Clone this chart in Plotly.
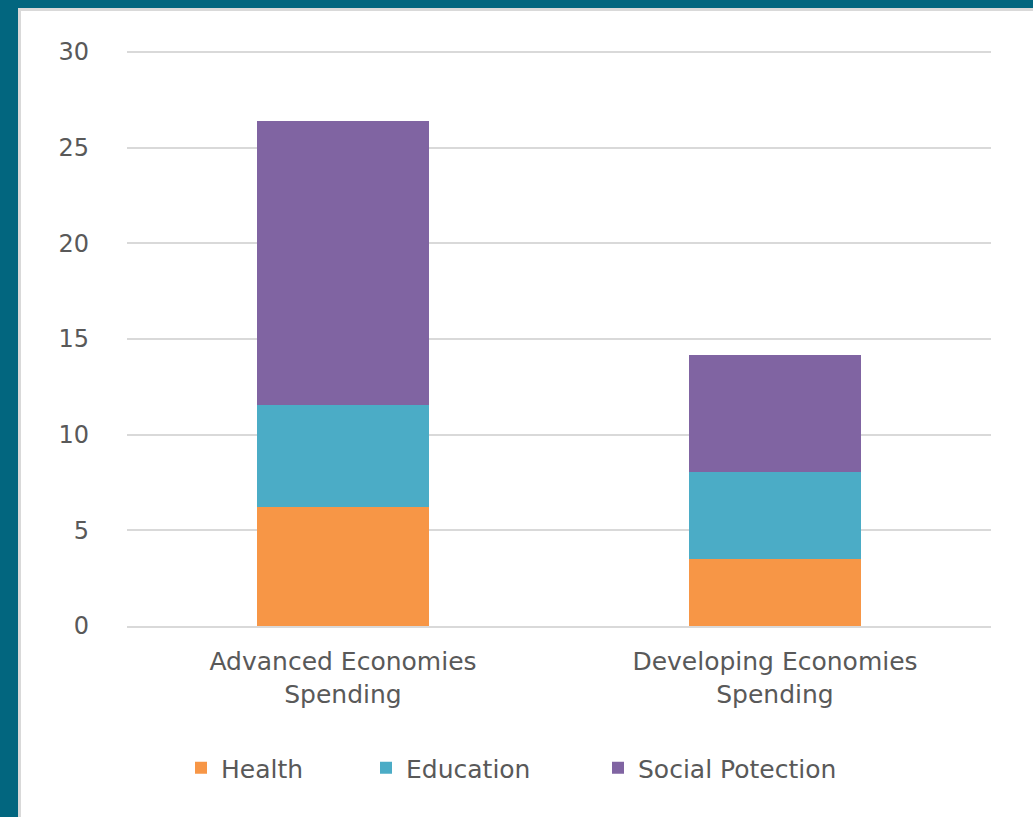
import plotly.graph_objects as go

categories = ["Advanced Economies<br>Spending", "Developing Economies<br>Spending"]
health = [6.2, 3.5]
education = [5.35, 4.55]
social = [14.85, 6.1]
series_names = ["Health", "Education", "Social Potection"]
colors = ["#F79646", "#4BACC6", "#8064A2"]
y_ticks = [0, 5, 10, 15, 20, 25, 30]

W, H = 1033, 817
L, R, T, B = 127, 42, 51, 191
pw, ph = W - L - R, H - T - B
y_top = 30 * ph / (ph - 1)

def px_x(p):
    return (p - L) / pw

def px_y(p):
    return (H - B - p) / ph

legend_left_px = [181, 366, 598]
legend_names = ["legend", "legend2", "legend3"]

fig = go.Figure()
for name, vals, c, lg in zip(series_names, [health, education, social], colors, legend_names):
    fig.add_trace(go.Bar(x=categories, y=vals, name=name, marker=dict(color=c, line=dict(width=0)),
                         width=0.4, legend=lg))

font_family = "DejaVu Sans, Open Sans, sans-serif"
teal = "#02667F"
legend_common = dict(orientation="h", yanchor="middle", y=px_y(768), xanchor="left",
                     font=dict(size=25, color="#595959"), itemwidth=30, bgcolor="rgba(0,0,0,0)")
layout_legends = {}
for lg, lx in zip(legend_names, legend_left_px):
    layout_legends[lg] = dict(legend_common, x=px_x(lx))

fig.update_layout(
    width=W, height=H, barmode="stack",
    margin=dict(l=L, r=R, t=T, b=B, autoexpand=False),
    paper_bgcolor="white", plot_bgcolor="white",
    font=dict(family=font_family, size=24, color="#595959"),
    showlegend=True,
    shapes=[
        dict(type="line", xref="paper", yref="y", x0=0, x1=1, y0=y_ticks[-1], y1=y_ticks[-1],
             line=dict(color="#D9D9D9", width=2), layer="below"),
        dict(type="rect", xref="paper", yref="paper", x0=px_x(-5), x1=px_x(18), y0=px_y(H + 5), y1=px_y(-5),
             fillcolor=teal, line=dict(width=0), layer="above"),
        dict(type="rect", xref="paper", yref="paper", x0=px_x(-5), x1=px_x(W + 5), y0=px_y(8), y1=px_y(-5),
             fillcolor=teal, line=dict(width=0), layer="above"),
        dict(type="rect", xref="paper", yref="paper", x0=px_x(18), x1=px_x(21), y0=px_y(H + 5), y1=px_y(8),
             fillcolor="#D9D9D9", line=dict(width=0), layer="above"),
        dict(type="rect", xref="paper", yref="paper", x0=px_x(18), x1=px_x(W + 5), y0=px_y(11), y1=px_y(8),
             fillcolor="#D9D9D9", line=dict(width=0), layer="above"),
    ],
    **layout_legends,
)
fig.update_yaxes(range=[0, y_top], tickvals=y_ticks, showgrid=True, gridcolor="#D9D9D9", gridwidth=2,
                 zeroline=False, showline=False, ticks="", ticklabelstandoff=37,
                 tickfont=dict(size=24, color="#595959"), fixedrange=True)
fig.update_xaxes(showline=True, linecolor="#D9D9D9", linewidth=2, ticks="", ticklabelstandoff=12,
                 tickfont=dict(size=25, color="#595959"), fixedrange=True)

fig.write_html("out.html", config={"displayModeBar": False},
               post_script="document.body.style.margin='0';document.body.style.padding='0';")
